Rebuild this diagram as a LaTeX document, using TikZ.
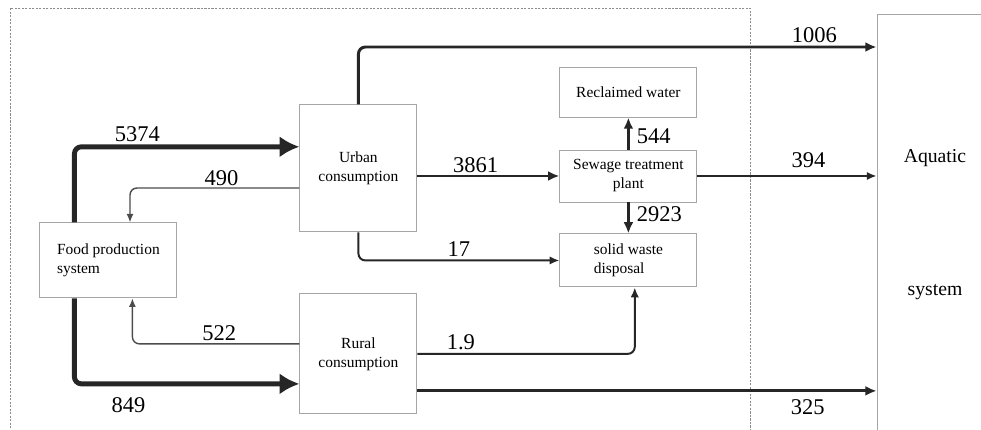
\documentclass[tikz,border=0pt]{standalone}
\usepackage{fontspec}
\setmainfont{Liberation Serif}
\usetikzlibrary{arrows.meta, positioning}

\begin{document}
\begin{tikzpicture}[
        box/.style={draw=gray!70, line width=0.7pt, align=center, inner sep=2pt,
            minimum width=3.425cm, font=\fontsize{11}{13.5}\selectfont},
        flow/.style={draw=black!85, rounded corners=5pt, line width=1.4pt, -{Latex[length=7pt,width=6pt]}},
        wide/.style={flow, line width=3.5pt, -{Latex[length=14pt,width=15pt]}},
        mid/.style={flow, line width=2.1pt, -{Latex[length=8pt,width=7pt]}},
        slim/.style={flow, line width=1pt, draw=black!70, -{Latex[length=6pt,width=5pt]}},
        num/.style={font=\fontsize{16}{18}\selectfont, inner sep=2pt}
    ]
    \useasboundingbox (0,0) rectangle (24.525,-10.75);
    \clip (0,0) rectangle (24.525,-10.75);

    % system boundary
    \draw[gray!90, line width=0.6pt, dash pattern=on 1.5pt off 1pt] (0.25,-0.2) rectangle (18.75,-11);

    \node[box, minimum width=2.925cm, minimum height=3.175cm] (urban) at (8.96,-4.21) {Urban\\consumption};
    \node[box, minimum width=2.925cm, minimum height=3cm, below=1.525cm of urban] (rural) {Rural\\consumption};
    \node[box, align=left, minimum height=1.875cm] (food) at (2.71,-6.51) {Food production\\system};
    \node[box, minimum height=1.3cm] (sewage) at (15.71,-4.4) {Sewage treatment\\plant};
    \node[box, minimum height=1.25cm, above=0.8cm of sewage] (reclaimed) {Reclaimed water};
    \node[box, align=left, minimum height=1.325cm, below=0.775cm of sewage] (solid) {solid waste\\disposal};

    % aquatic system, cut by the page edge
    \node[draw=gray!70, line width=0.7pt, minimum width=3.325cm, minimum height=11.15cm] (aqua) at (23.59,-5.925) {};
    \node[font=\fontsize{14}{16}\selectfont] (aqtop) at (23.375,-3.95) {Aquatic};
    \node[font=\fontsize{14}{16}\selectfont] (aqbot) at (23.375,-7.3) {system};

    \draw[wide] ([xshift=0.875cm]food.north west) |- node[num, above, pos=0.64]{5374} ([yshift=0.54cm]urban.west);
    \draw[wide] ([xshift=0.875cm]food.south west) |- node[num, below=6pt, pos=0.62]{849} ([yshift=-0.75cm]rural.west);
    \draw[slim] ([yshift=-0.49cm]urban.west) -| node[num, above=-1pt, pos=0.23]{490} ([xshift=0.54cm]food.north);
    \draw[slim] ([yshift=0.25cm]rural.west) -| node[num, above, pos=0.24]{522} ([xshift=0.6cm]food.south);

    \draw[mid] (urban.north) |- node[num, above, pos=0.94]{1006} ([yshift=4.75cm]aqua.west);
    \draw[mid] (urban.east |- sewage.west) -- node[num, above=-1pt, pos=0.41]{3861} (sewage.west);
    \draw[flow] (sewage.east) -- node[num, above=3pt, pos=0.62]{394} (sewage.east -| aqua.west);
    \draw[mid] (sewage.north) -- node[num, right=3pt, pos=0.4]{544} (reclaimed.south);
    \draw[mid] (sewage.south) -- node[num, right=3pt, pos=0.39]{2923} (solid.north);
    \draw[flow] (urban.south) |- node[num, above, pos=0.75]{17} (solid.west);
    \draw[flow] (rural.east) -| node[num, above, pos=0.1]{1.9} ([xshift=0.16cm]solid.south);
    \draw[mid] ([yshift=-0.925cm]rural.east) -- node[num, below=3pt, pos=0.85]{325} ([yshift=-0.925cm]rural.east -| aqua.west);
\end{tikzpicture}
\end{document}
